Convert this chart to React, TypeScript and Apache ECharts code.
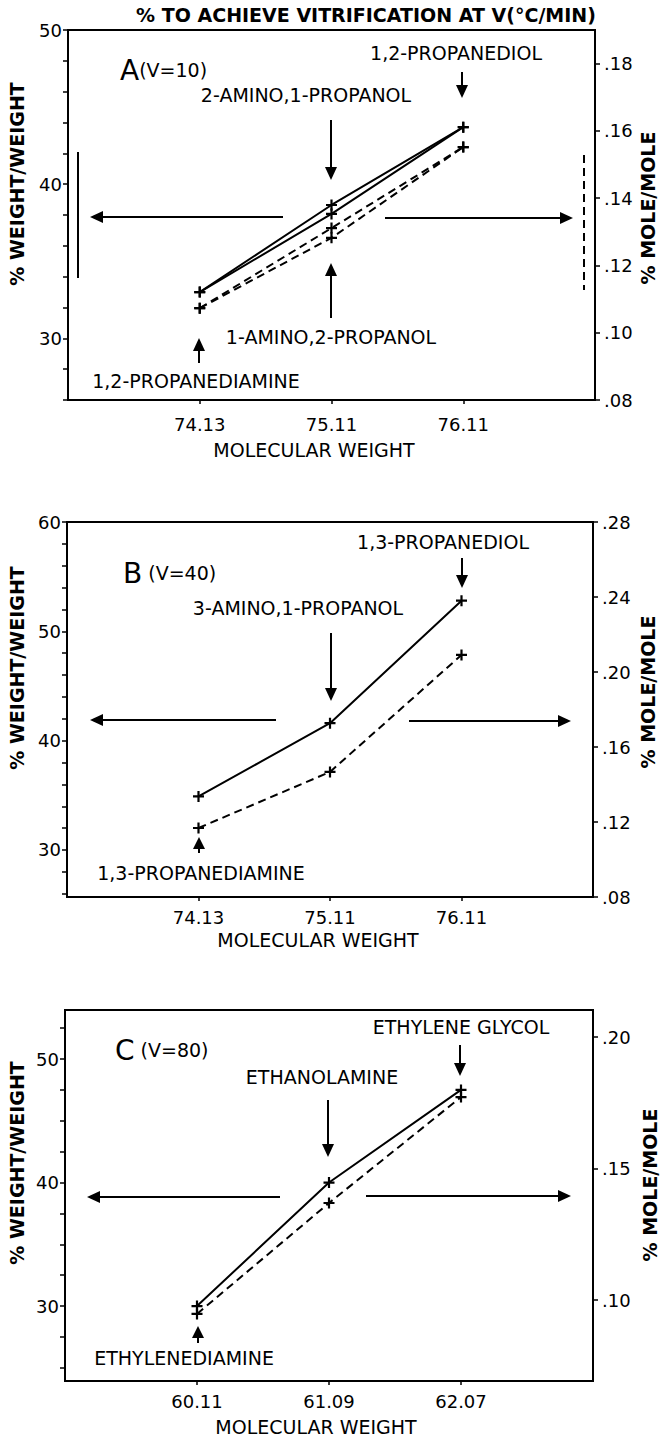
import { useEffect, useRef } from 'react';
import * as echarts from 'echarts';

// ---- data ----
const xLabelsAB = ['74.13', '75.11', '76.11'];
const xLabelsC = ['60.11', '61.09', '62.07'];

// Panel A (V=10)
const aWw2Amino1Propanol = [33.0, 38.65, 43.7];
const aWw1Amino2Propanol = [33.0, 38.07, 43.7];
const aMm2Amino1Propanol = [0.1073, 0.1311, 0.1552];
const aMm1Amino2Propanol = [0.1073, 0.1282, 0.1552];
// Panel B (V=40)
const bWw = [34.9, 41.6, 52.8];
const bMm = [0.1168, 0.1467, 0.2091];
// Panel C (V=80)
const cWw = [30.0, 40.0, 47.5];
const cMm = [0.0947, 0.1369, 0.1772];

// tick positions
const aLeftTicks = [26, 28, 30, 32, 34, 36, 38, 40, 42, 44, 46, 48, 50];
const aLeftLabels = [30, 40, 50];
const aRightTicks = [0.08, 0.10, 0.12, 0.14, 0.16, 0.18];
const bLeftTicks = [26, 28, 30, 32, 34, 36, 38, 40, 42, 44, 46, 48, 50, 52, 54, 56, 58, 60];
const bLeftLabels = [30, 40, 50, 60];
const bRightTicks = [0.08, 0.12, 0.16, 0.20, 0.24, 0.28];
const cLeftTicks = [25, 27.5, 30, 32.5, 35, 37.5, 40, 42.5, 45, 47.5, 50, 52.5];
const cLeftLabels = [30, 40, 50];
const cRightTicks = [0.10, 0.15, 0.20];
const xTicks = [0, 1, 2];

const FONT = 'DejaVu Sans';
const CROSS = 'path://M4,0H6V4H10V6H6V10H4V6H0V4H4Z';
const LBL = 19;
const TICK = 18;

function toPts(vals: number[]) {
  return vals.map((v, i) => [i, v]);
}

function lineSeries(vals: number[], xi: number, yi: number, dashed: boolean) {
  return {
    type: 'line',
    xAxisIndex: xi,
    yAxisIndex: yi,
    data: toPts(vals),
    symbol: CROSS,
    symbolSize: 11,
    itemStyle: { color: '#000' },
    lineStyle: { color: '#000', width: 2, type: dashed ? [8, 5] : 'solid' },
    silent: true,
  };
}

function xAxis(gi: number, labels: string[], margin: number) {
  return {
    type: 'value',
    gridIndex: gi,
    min: -1,
    max: 3,
    axisLine: { show: true, onZero: false, lineStyle: { color: '#000', width: 2 } },
    axisTick: { show: true, customValues: xTicks, length: 4, lineStyle: { color: '#000', width: 1.5 } },
    axisLabel: {
      customValues: xTicks,
      formatter: (v: number) => labels[Math.round(v)] ?? '',
      fontFamily: FONT,
      fontSize: TICK,
      color: '#000',
      margin,
    },
    splitLine: { show: false },
  };
}

function yLeft(gi: number, min: number, max: number, ticks: number[], labels: number[]) {
  return {
    type: 'value',
    gridIndex: gi,
    position: 'left',
    min,
    max,
    axisLine: { show: true, onZero: false, lineStyle: { color: '#000', width: 2 } },
    axisTick: { show: true, customValues: ticks, length: 5, lineStyle: { color: '#000', width: 1.5 } },
    axisLabel: {
      customValues: labels,
      formatter: (v: number) => String(Math.round(v)),
      fontFamily: FONT,
      fontSize: TICK,
      color: '#000',
      margin: 6,
    },
    splitLine: { show: false },
  };
}

function yRight(gi: number, min: number, max: number, ticks: number[]) {
  return {
    type: 'value',
    gridIndex: gi,
    position: 'right',
    min,
    max,
    axisLine: { show: true, onZero: false, lineStyle: { color: '#000', width: 2 } },
    axisTick: { show: true, customValues: ticks, length: 5, lineStyle: { color: '#000', width: 1.5 } },
    axisLabel: {
      customValues: ticks,
      formatter: (v: number) => v.toFixed(2).replace(/^0/, ''),
      fontFamily: FONT,
      fontSize: TICK,
      color: '#000',
      margin: 9,
    },
    splitLine: { show: false },
  };
}

function txt(text: string, x: number, y: number, fontSize = LBL, bold = false, align = 'center', rotation = 0) {
  return {
    type: 'text',
    x,
    y,
    rotation,
    silent: true,
    style: {
      text,
      fontFamily: FONT,
      fontSize,
      fontWeight: bold ? 'bold' : 'normal',
      fill: '#000',
      align,
      verticalAlign: 'middle',
    },
  };
}

function panelTitle(letter: string, rest: string, x: number, y: number) {
  return {
    type: 'text',
    x,
    y,
    silent: true,
    style: {
      text: `{a|${letter}}{b|${rest}}`,
      align: 'left',
      verticalAlign: 'middle',
      fill: '#000',
      rich: {
        a: { fontFamily: FONT, fontSize: 28, fill: '#000' },
        b: { fontFamily: FONT, fontSize: 19, fill: '#000' },
      },
    },
  };
}

function arrow(x1: number, y1: number, x2: number, y2: number, head = 13, half = 6) {
  const dx = x2 - x1;
  const dy = y2 - y1;
  const L = Math.hypot(dx, dy);
  const ux = dx / L;
  const uy = dy / L;
  const bx = x2 - ux * head;
  const by = y2 - uy * head;
  return [
    { type: 'line', silent: true, shape: { x1, y1, x2: bx + ux, y2: by + uy }, style: { stroke: '#000', lineWidth: 2 } },
    {
      type: 'polygon',
      silent: true,
      shape: { points: [[x2, y2], [bx - uy * half, by + ux * half], [bx + uy * half, by - ux * half]] },
      style: { fill: '#000' },
    },
  ];
}

function bar(x: number, y1: number, y2: number, dashed: boolean) {
  return {
    type: 'line',
    silent: true,
    shape: { x1: x, y1, x2: x, y2 },
    style: { stroke: '#000', lineWidth: 2, lineDash: dashed ? [8, 5] : null },
  };
}

export default function App() {
  const ref = useRef<HTMLDivElement>(null);
  useEffect(() => {
    const chart = echarts.init(ref.current!, null, { renderer: 'svg' });
    const gridStyle = { show: true, borderColor: '#000', borderWidth: 2, backgroundColor: 'transparent' };
    const option = {
      animation: false,
      backgroundColor: '#fff',
      grid: [
        { left: 68, top: 30, width: 527, height: 370, ...gridStyle },
        { left: 67, top: 522, width: 526, height: 375, ...gridStyle },
        { left: 65, top: 1010, width: 528, height: 371, ...gridStyle },
      ],
      xAxis: [xAxis(0, xLabelsAB, 15), xAxis(1, xLabelsAB, 11), xAxis(2, xLabelsC, 11)],
      yAxis: [
        yLeft(0, 26, 50, aLeftTicks, aLeftLabels),
        yRight(0, 0.08, 0.19, aRightTicks),
        yLeft(1, 25.7, 60, bLeftTicks, bLeftLabels),
        yRight(1, 0.08, 0.28, bRightTicks),
        yLeft(2, 23.93, 53.97, cLeftTicks, cLeftLabels),
        yRight(2, 0.0692, 0.2103, cRightTicks),
      ],
      series: [
        lineSeries(aWw2Amino1Propanol, 0, 0, false),
        lineSeries(aWw1Amino2Propanol, 0, 0, false),
        lineSeries(aMm2Amino1Propanol, 0, 1, true),
        lineSeries(aMm1Amino2Propanol, 0, 1, true),
        lineSeries(bWw, 1, 2, false),
        lineSeries(bMm, 1, 3, true),
        lineSeries(cWw, 2, 4, false),
        lineSeries(cMm, 2, 5, true),
      ],
      graphic: [
        // Panel A
        txt('% TO ACHIEVE VITRIFICATION AT V(°C/MIN)', 366, 15, 19, true),
        panelTitle('A', '(V=10)', 120, 70),
        txt('1,2-PROPANEDIOL', 456, 53),
        txt('2-AMINO,1-PROPANOL', 306, 95),
        txt('1-AMINO,2-PROPANOL', 331, 337),
        txt('1,2-PROPANEDIAMINE', 196, 381),
        txt('MOLECULAR WEIGHT', 314, 450),
        txt('% WEIGHT/WEIGHT', 17, 184, 19, true, 'center', Math.PI / 2),
        txt('% MOLE/MOLE', 648, 208, 19, true, 'center', Math.PI / 2),
        ...arrow(462, 72, 462, 98),
        ...arrow(331, 120, 331, 180),
        ...arrow(331, 318, 331, 263),
        ...arrow(199, 363, 199, 338),
        ...arrow(283, 217, 90, 217),
        ...arrow(385, 218, 573, 218),
        bar(78, 152, 278, false),
        bar(584, 155, 290, true),
        // Panel B
        panelTitle('B', ' (V=40)', 123, 573),
        txt('1,3-PROPANEDIOL', 443, 542),
        txt('3-AMINO,1-PROPANOL', 298, 608),
        txt('1,3-PROPANEDIAMINE', 201, 873),
        txt('MOLECULAR WEIGHT', 318, 940),
        txt('% WEIGHT/WEIGHT', 17, 668, 19, true, 'center', Math.PI / 2),
        txt('% MOLE/MOLE', 648, 692, 19, true, 'center', Math.PI / 2),
        ...arrow(462, 558, 462, 588),
        ...arrow(331, 633, 331, 701),
        ...arrow(199, 853, 199, 837, 12, 6),
        ...arrow(276, 720, 90, 720),
        ...arrow(409, 721, 571, 721),
        // Panel C
        panelTitle('C', ' (V=80)', 115, 1050),
        txt('ETHYLENE GLYCOL', 461, 1027),
        txt('ETHANOLAMINE', 322, 1077),
        txt('ETHYLENEDIAMINE', 184, 1358),
        txt('MOLECULAR WEIGHT', 316, 1427),
        txt('% WEIGHT/WEIGHT', 17, 1163, 19, true, 'center', Math.PI / 2),
        txt('% MOLE/MOLE', 650, 1185, 19, true, 'center', Math.PI / 2),
        ...arrow(460, 1045, 460, 1076),
        ...arrow(328, 1100, 328, 1157),
        ...arrow(198, 1343, 198, 1326, 12, 6),
        ...arrow(280, 1197, 87, 1197),
        ...arrow(366, 1196, 571, 1196),
      ],
    };
    chart.setOption(option as any);
    return () => chart.dispose();
  }, []);
  return (
    <div
      ref={ref}
      style={{ position: 'absolute', left: 0, top: 0, width: 660, height: 1439, background: '#fff' }}
    />
  );
}
